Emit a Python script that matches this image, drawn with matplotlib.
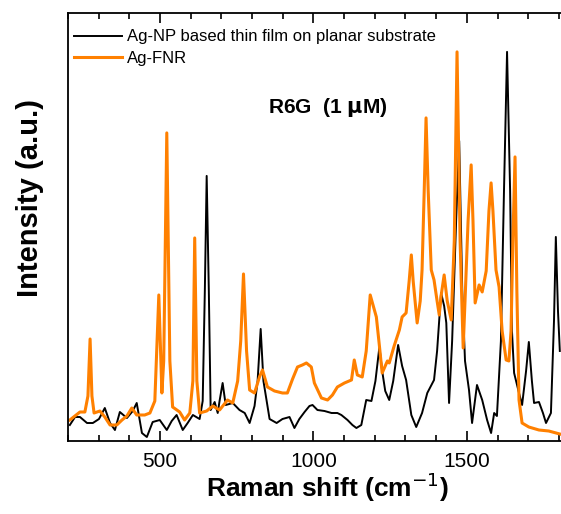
import numpy as np
import matplotlib as mpl
mpl.use("Agg")
import matplotlib.pyplot as plt
from matplotlib.ticker import MultipleLocator

plt.rcParams['font.family'] = ['Liberation Sans', 'DejaVu Sans']

# traced spectra (wavenumber in cm-1, intensity in a.u.)
fnr_x = [206, 239, 255, 265, 272, 278, 285, 304, 320, 337, 359, 376, 392, 408, 424,
         450, 467, 483, 496, 506, 512, 522, 532, 541, 564, 580, 597, 607, 613, 620,
         629, 652, 672, 694, 720, 737, 753, 763, 772, 782, 792, 808, 824, 834, 850,
         873, 899, 915, 932, 948, 964, 977, 993, 1003, 1026, 1046, 1062, 1078, 1101,
         1124, 1133, 1143, 1159, 1172, 1185, 1195, 1205, 1215, 1224, 1241, 1247, 1263,
         1280, 1289, 1302, 1312, 1319, 1325, 1338, 1348, 1354, 1361, 1367, 1374, 1384,
         1393, 1403, 1410, 1416, 1426, 1436, 1449, 1459, 1468, 1478, 1488, 1494, 1504,
         1514, 1520, 1527, 1540, 1550, 1563, 1572, 1579, 1585, 1595, 1605, 1615, 1628,
         1637, 1644, 1650, 1657, 1663, 1670, 1680, 1702, 1735, 1767, 1803]
fnr_y = [21, 29, 29, 45, 102, 45, 28, 30, 24, 16, 16, 21, 25, 33, 26,
         26, 28, 40, 146, 48, 80, 308, 80, 34, 29, 21, 28, 60, 203, 60,
         28, 30, 35, 31, 41, 38, 60, 100, 167, 90, 51, 48, 64, 71, 54,
         50, 48, 48, 62, 74, 76, 78, 74, 58, 43, 41, 46, 54, 58,
         61, 81, 66, 64, 90, 146, 135, 124, 95, 68, 80, 78, 95,
         111, 124, 128, 160, 186, 160, 118, 140, 171, 250, 323, 250, 171,
         161, 140, 126, 145, 166, 140, 121, 200, 389, 200, 93, 140, 220,
         276, 220, 138, 156, 149, 170, 230, 258, 230, 171, 154, 110, 81,
         80, 110, 200, 284, 150, 41, 18, 14, 11, 10, 7]

np_x = [206, 223, 239, 262, 281, 301, 320, 337, 353, 369, 392, 411, 424, 441, 457,
        476, 499, 522, 538, 554, 574, 590, 607, 629, 639, 646, 652, 659, 665, 678,
        688, 694, 704, 714, 737, 759, 776, 792, 808, 818, 828, 837, 847, 857, 880,
        899, 922, 938, 954, 971, 987, 997, 1013, 1036, 1059, 1078, 1091, 1111, 1127,
        1140, 1156, 1172, 1189, 1202, 1215, 1224, 1234, 1247, 1260, 1276, 1289, 1302,
        1319, 1335, 1354, 1371, 1393, 1403, 1416, 1426, 1433, 1442, 1452, 1465, 1475,
        1485, 1494, 1507, 1517, 1533, 1550, 1566, 1579, 1589, 1598, 1611, 1621, 1631,
        1641, 1647, 1654, 1670, 1680, 1693, 1702, 1712, 1719, 1735, 1748, 1758, 1774,
        1784, 1790, 1797, 1803]
np_y = [16, 24, 24, 18, 18, 22, 33, 18, 11, 29, 23, 30, 38, 8, 4,
        19, 21, 11, 20, 26, 11, 18, 26, 22, 40, 150, 265, 150, 31, 39,
        28, 40, 58, 36, 38, 31, 28, 18, 35, 60, 112, 60, 41, 22, 18,
        22, 24, 13, 22, 29, 35, 36, 31, 30, 28, 28, 26, 21, 16,
        13, 16, 41, 40, 60, 94, 70, 50, 41, 60, 96, 75, 61,
        26, 14, 28, 48, 61, 90, 148, 135, 118, 38, 100, 220, 300,
        150, 80, 51, 18, 56, 41, 21, 8, 28, 25, 100, 250, 389,
        250, 110, 68, 48, 36, 70, 99, 60, 38, 39, 28, 18, 28,
        120, 204, 130, 90]

fig = plt.figure(figsize=(5.61, 5.14), dpi=100)
ax = fig.add_axes([0.1212, 0.142, 0.886, 0.833])

ax.plot(np_x, np_y, color='black', lw=1.4, label='Ag-NP based thin film on planar substrate')
ax.plot(fnr_x, fnr_y, color='#ff8000', lw=2.2, label='Ag-FNR')

ax.set_xlim(200, 1820)
ax.set_ylim(0, 428)

ax.xaxis.set_major_locator(MultipleLocator(500))
ax.xaxis.set_minor_locator(MultipleLocator(100))
ax.tick_params(axis='x', which='both', direction='in', top=True, width=1.2,
               labelsize=15, pad=8)
ax.tick_params(axis='x', which='major', length=7)
ax.tick_params(axis='x', which='minor', length=4)
ax.set_yticks([])
for s in ax.spines.values():
    s.set_linewidth(1.3)

ax.set_xlabel('Raman shift (cm$^{-1}$)', fontsize=19, fontweight='bold')
ax.xaxis.set_label_coords(0.523, -0.07)
ax.set_ylabel('Intensity (a.u.)', fontsize=21, fontweight='bold')
ax.yaxis.set_label_coords(-0.048, 0.567)

ax.text(0.523, 0.78, 'R6G  (1 $\\mathbf{\\mu}$M)', transform=ax.transAxes,
        fontsize=15, fontweight='bold', ha='center', va='center')

ax.legend(loc='upper left', bbox_to_anchor=(0.0, 0.975), frameon=False, fontsize=12,
          handlelength=2.9, borderpad=0.25, borderaxespad=0.1, handletextpad=0.3,
          labelspacing=0.4)

fig.savefig('out.png', dpi=100)
